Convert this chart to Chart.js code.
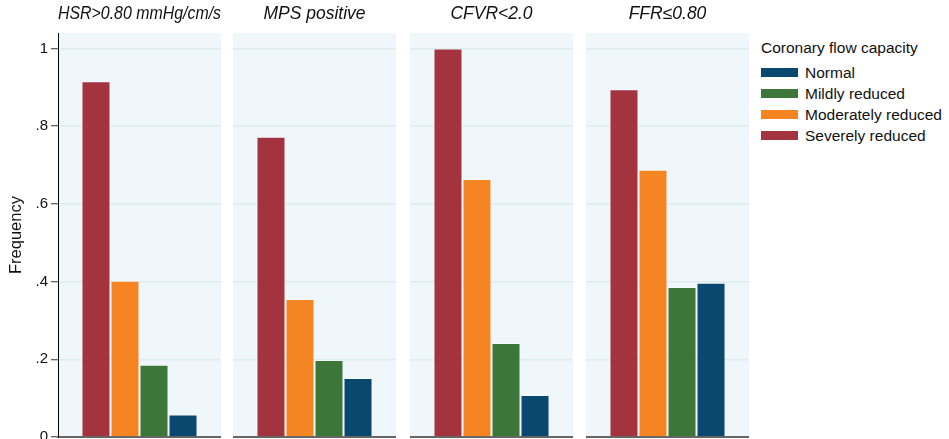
<!DOCTYPE html>
<html>
<head>
<meta charset="utf-8">
<script src="https://cdn.jsdelivr.net/npm/chart.js@4/dist/chart.umd.min.js"></script>
<style>
  html, body { margin: 0; padding: 0; background: #fff; }
  body { width: 949px; height: 439px; overflow: hidden; position: relative;
         font-family: "Liberation Sans", Arial, Helvetica, sans-serif; color: #111; }
  canvas.panel { position: absolute; top: 0; }
  #legend { position: absolute; left: 761px; top: 38px; }
  #legend .ttl { font-size: 15.5px; line-height: 20px; height: 20px; margin-bottom: 4px; }
  #legend .row { display: flex; align-items: center; height: 21px; font-size: 15.5px; }
  #legend .sw { width: 37px; height: 9px; margin-right: 7px; flex: none; }
</style>
</head>
<body>
<canvas class="panel" id="p0"></canvas>
<canvas class="panel" id="p1"></canvas>
<canvas class="panel" id="p2"></canvas>
<canvas class="panel" id="p3"></canvas>
<div id="legend"></div>

<script>
// Outcome panels
const PANEL_TITLES = ['HSR>0.80 mmHg/cm/s', 'MPS positive', 'CFVR<2.0', 'FFR\u22640.80'];

// Coronary flow capacity groups (bar order within a panel)
const SERIES_NAMES = ['Severely reduced', 'Moderately reduced', 'Mildly reduced', 'Normal'];
const SERIES_COLORS = ['#A3343F', '#F58522', '#3C7639', '#0B4870'];

// Frequency per panel, one array per group
const SEVERELY   = [0.916, 0.773, 1.000, 0.895];
const MODERATELY = [0.402, 0.355, 0.664, 0.688];
const MILDLY     = [0.186, 0.198, 0.242, 0.386];
const NORMAL     = [0.058, 0.152, 0.108, 0.397];

// Y axis ticks
const Y_TICKS = [0, 0.2, 0.4, 0.6, 0.8, 1];
const Y_TICK_LABELS = ['0', '.2', '.4', '.6', '.8', '1'];

const LEGEND_TITLE = 'Coronary flow capacity';
const Y_TITLE = 'Frequency';

const SERIES_VALUES = [SEVERELY, MODERATELY, MILDLY, NORMAL];

// Layout of the four canvases
const PANEL_LEFT = [0, 233, 410, 586];
const PLOT_WIDTH = 163;
const AXIS_WIDTH = 58;
const CANVAS_H = 480;

const plotBackground = {
  id: 'plotBackground',
  beforeDraw(chart) {
    const a = chart.chartArea, ctx = chart.ctx;
    ctx.save();
    ctx.fillStyle = '#EFF7FB';
    ctx.fillRect(a.left, a.top, a.right - a.left, a.bottom - a.top);
    ctx.restore();
  }
};

PANEL_TITLES.forEach((title, i) => {
  const first = i === 0;
  const cv = document.getElementById('p' + i);
  const w = PLOT_WIDTH + (first ? AXIS_WIDTH : 0);
  cv.width = w; cv.height = CANVAS_H;
  cv.style.left = PANEL_LEFT[i] + 'px';
  cv.style.width = w + 'px'; cv.style.height = CANVAS_H + 'px';

  new Chart(cv, {
    type: 'bar',
    data: {
      labels: [''],
      datasets: SERIES_NAMES.map((name, k) => ({
        label: name,
        data: [SERIES_VALUES[k][i]],
        backgroundColor: SERIES_COLORS[k],
        borderColor: 'rgba(255,255,255,0.45)',
        borderWidth: 1,
        borderSkipped: 'bottom',
        categoryPercentage: 0.712,
        barPercentage: 1
      }))
    },
    options: {
      responsive: false,
      animation: false,
      devicePixelRatio: 1,
      layout: { padding: { top: 0, bottom: CANVAS_H - 437, left: 0, right: 0 } },
      plugins: {
        legend: { display: false },
        tooltip: { enabled: false },
        title: {
          display: true,
          text: title,
          fullSize: false,
          color: '#111',
          font: { family: '"Liberation Sans", Arial, sans-serif', size: 17.5, style: 'italic', weight: 'normal' },
          padding: { top: 4, bottom: 8 }
        }
      },
      scales: {
        x: {
          type: 'category',
          offset: true,
          ticks: { display: false },
          grid: { display: false, drawTicks: false },
          border: { display: true, color: '#666', width: 2 }
        },
        y: {
          min: 0,
          max: 1.04,
          afterBuildTicks: s => { s.ticks = Y_TICKS.map(v => ({ value: v })); },
          afterFit: s => { s.width = first ? AXIS_WIDTH : 0; },
          ticks: {
            display: first,
            padding: 3,
            color: '#111',
            font: { family: '"Liberation Sans", Arial, sans-serif', size: 15 },
            callback: (v, idx) => Y_TICK_LABELS[idx]
          },
          grid: {
            color: '#DCECF0',
            lineWidth: 1.5,
            drawTicks: first,
            tickLength: 7,
            tickColor: '#333',
            tickWidth: 1
          },
          border: { display: first, color: '#000', width: 1 },
          title: {
            display: first,
            text: Y_TITLE,
            color: '#111',
            font: { family: '"Liberation Sans", Arial, sans-serif', size: 16.5 },
            padding: { top: 7, bottom: 0 }
          }
        }
      }
    },
    plugins: [plotBackground]
  });
});

// Legend (reverse order: Normal first)
const lg = document.getElementById('legend');
const t = document.createElement('div');
t.className = 'ttl';
t.textContent = LEGEND_TITLE;
lg.appendChild(t);
SERIES_NAMES.map((n, k) => k).reverse().forEach(k => {
  const row = document.createElement('div');
  row.className = 'row';
  const sw = document.createElement('span');
  sw.className = 'sw';
  sw.style.background = SERIES_COLORS[k];
  const tx = document.createElement('span');
  tx.textContent = SERIES_NAMES[k];
  row.appendChild(sw); row.appendChild(tx);
  lg.appendChild(row);
});
</script>
</body>
</html>
